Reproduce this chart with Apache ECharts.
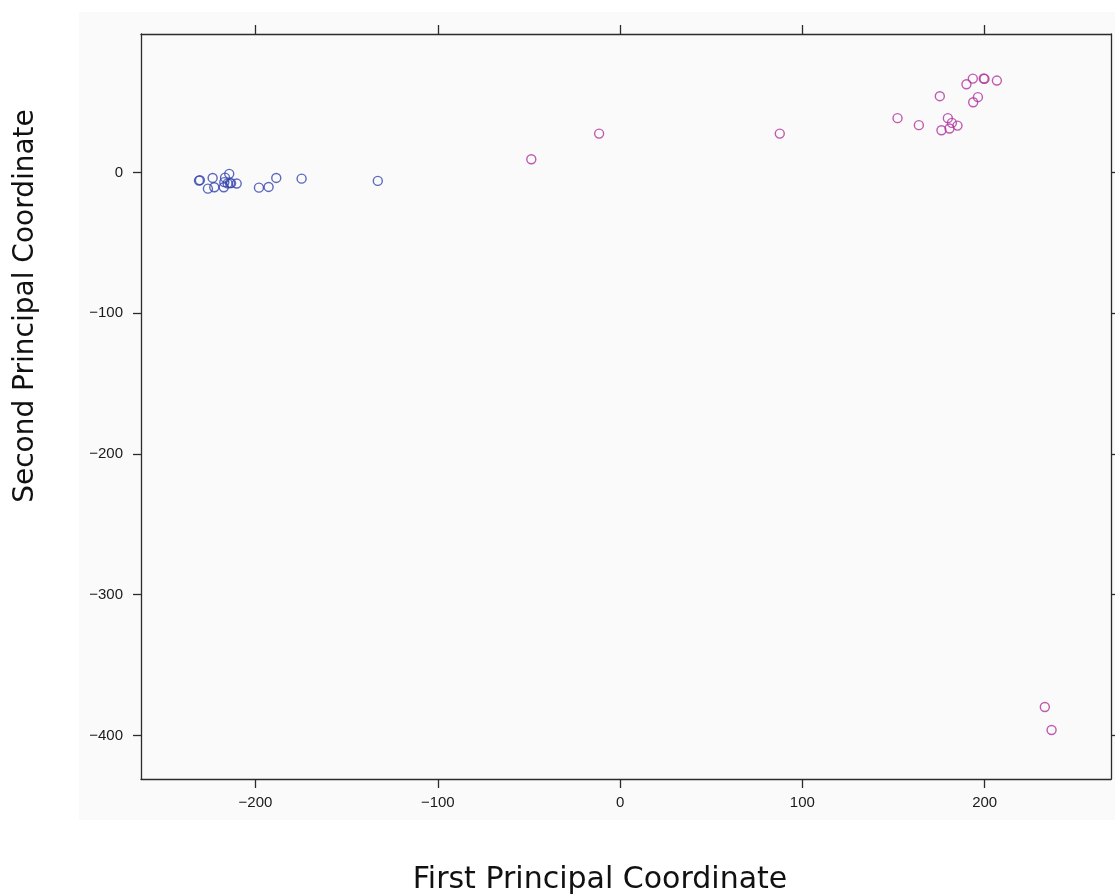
<!DOCTYPE html>
<html>
<head>
<meta charset="utf-8">
<style>
html,body{margin:0;padding:0;background:#ffffff;}
#chart{width:1115px;height:896px;}
</style>
<script src="https://cdn.jsdelivr.net/npm/echarts@6/dist/echarts.min.js"></script>
</head>
<body>
<div id="chart"></div>
<script>
// ---- data ----
const groupANames = ['Group A'];
const groupAX = [-231.0, -230.5, -223.5, -226.1, -222.6, -217.1, -216.7, -214.4, -217.4, -214.0, -215.3, -213.4, -210.3, -198.1, -192.8, -188.6, -174.7, -132.9];
const groupAY = [-5.7, -5.4, -3.8, -11.4, -10.4, -6.8, -3.6, -0.9, -10.4, -7.5, -7.7, -7.5, -7.8, -10.7, -10.2, -3.8, -4.3, -5.9];
const groupBX = [-48.7, -11.5, 87.6, 152.2, 163.9, 175.4, 176.3, 179.8, 182.0, 180.7, 185.1, 190.0, 193.5, 193.7, 196.3, 199.9, 199.5, 206.7, 233.0, 236.7];
const groupBY = [9.5, 27.7, 27.7, 38.7, 33.7, 54.3, 30.1, 38.7, 35.3, 31.3, 33.4, 62.8, 66.8, 50.0, 53.6, 66.6, 66.9, 65.4, -379.8, -396.2];
const xTicks = [-200, -100, 0, 100, 200];
const yTicks = [0, -100, -200, -300, -400];
const xTitle = 'First Principal Coordinate';
const yTitle = 'Second Principal Coordinate';

const ptsA = groupAX.map((x, i) => [x, groupAY[i]]);
const ptsB = groupBX.map((x, i) => [x, groupBY[i]]);

const chart = echarts.init(document.getElementById('chart'), null, {renderer: 'canvas'});
const minus = v => String(v).replace('-', '\u2212');
const axisLineStyle = {color: '#2b2b2b', width: 1.3};
const labelStyle = {fontFamily: 'Liberation Sans', fontSize: 15, color: '#1a1a1a'};

const X_MIN = -262.8, X_MAX = 269.3, Y_MIN = -431, Y_MAX = 98.5;

function xAxisCfg(pos, showLabels) {
  return {
    type: 'value', position: pos, min: X_MIN, max: X_MAX,
    splitLine: {show: false},
    axisLine: {show: true, onZero: false, lineStyle: axisLineStyle},
    axisTick: {show: true, inside: false, length: 9, customValues: xTicks, lineStyle: axisLineStyle},
    axisLabel: Object.assign({show: showLabels, margin: 16, customValues: xTicks, formatter: minus}, labelStyle)
  };
}
function yAxisCfg(pos, showLabels) {
  return {
    type: 'value', position: pos, min: Y_MIN, max: Y_MAX,
    splitLine: {show: false},
    axisLine: {show: true, onZero: false, lineStyle: axisLineStyle},
    axisTick: {show: true, inside: false, length: 8, customValues: yTicks, lineStyle: axisLineStyle},
    axisLabel: Object.assign({show: showLabels, margin: 18, customValues: yTicks, formatter: minus}, labelStyle)
  };
}

chart.setOption({
  animation: false,
  backgroundColor: '#ffffff',
  graphic: [
    {type: 'rect', z: -10, silent: true, shape: {x: 79, y: 12, width: 1036, height: 808}, style: {fill: '#fafafa'}},
    {type: 'text', silent: true, x: 600, y: 880, style: {text: xTitle, font: '30px "DejaVu Sans"', fill: '#111', align: 'center', verticalAlign: 'middle'}},
    {type: 'text', silent: true, x: 26, y: 306, rotation: Math.PI / 2, style: {text: yTitle, font: '28px "DejaVu Sans"', fill: '#111', align: 'center', verticalAlign: 'middle'}}
  ],
  grid: {left: 141, top: 34, width: 970, height: 745, show: false, containLabel: false},
  xAxis: [xAxisCfg('bottom', true), xAxisCfg('top', false)],
  yAxis: [yAxisCfg('left', true), yAxisCfg('right', false)],
  series: [
    {type: 'scatter', name: groupANames[0], xAxisIndex: 0, yAxisIndex: 0, data: ptsA, symbol: 'circle', symbolSize: 9,
     itemStyle: {color: 'rgba(0,0,0,0)', borderColor: '#3343ad', borderWidth: 1.4}},
    {type: 'scatter', name: 'Group B', xAxisIndex: 0, yAxisIndex: 0, data: ptsB, symbol: 'circle', symbolSize: 9,
     itemStyle: {color: 'rgba(0,0,0,0)', borderColor: '#b0339c', borderWidth: 1.4}}
  ]
});
</script>
</body>
</html>
